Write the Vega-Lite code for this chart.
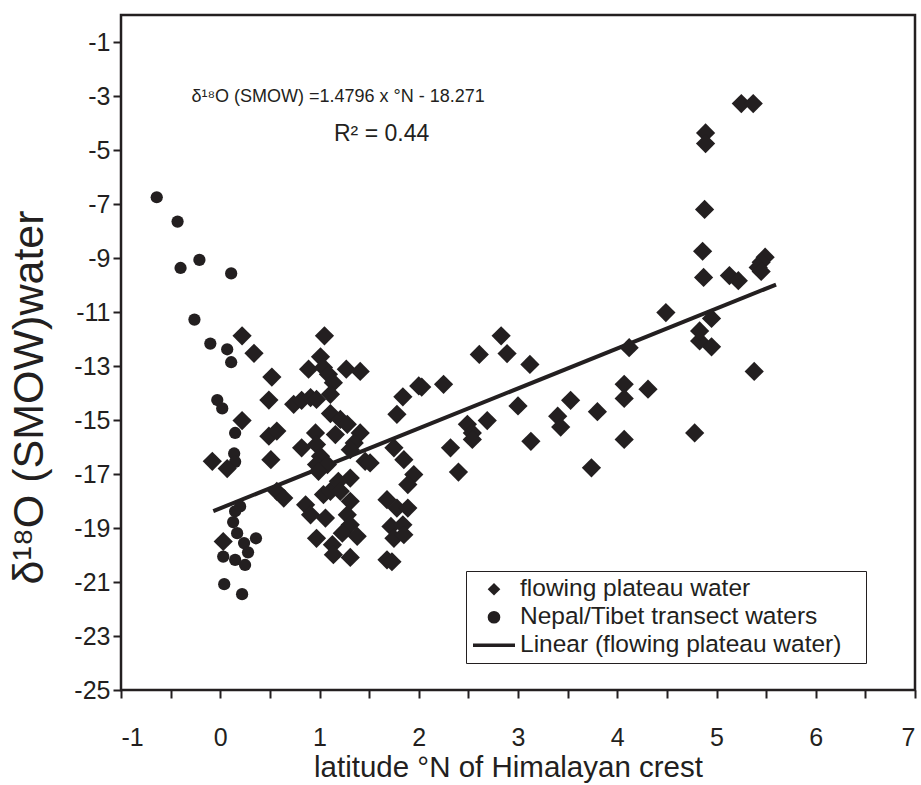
{
  "$schema": "https://vega.github.io/schema/vega-lite/v6.json",
  "width": 794,
  "height": 675,
  "autosize": {"type": "none"},
  "padding": {"left": 121, "top": 15, "right": 6, "bottom": 95},
  "background": "white",
  "config": {
    "view": {"stroke": "#231f20", "strokeWidth": 2.5},
    "font": "Liberation Sans",
    "axis": {
      "labelFont": "Liberation Sans",
      "labelFontSize": 25,
      "labelColor": "#231f20",
      "tickColor": "#231f20",
      "tickWidth": 2,
      "tickSize": 8,
      "domain": false,
      "grid": false,
      "titleFont": "Liberation Sans",
      "titleFontWeight": "normal",
      "titleColor": "#231f20"
    },
    "legend": {
      "orient": "none",
      "legendX": 345,
      "legendY": 556,
      "padding": 6,
      "rowPadding": 3,
      "strokeColor": "#231f20",
      "fillColor": "white",
      "labelFont": "Liberation Sans",
      "labelFontSize": 24.5,
      "labelColor": "#231f20",
      "labelLimit": 600,
      "symbolOffset": 9.75,
      "labelOffset": 13.75,
      "symbolSize": 160,
      "symbolFillColor": "#231f20",
      "symbolOpacity": 1,
      "titleOrient": "right",
      "titleFontSize": 2,
      "titlePadding": 19
    }
  },
  "datasets": {
    "pts": [
      {"lat": -0.64, "d18O": -6.75, "series": "Nepal/Tibet transect waters"},
      {"lat": -0.43, "d18O": -7.65, "series": "Nepal/Tibet transect waters"},
      {"lat": -0.40, "d18O": -9.37, "series": "Nepal/Tibet transect waters"},
      {"lat": -0.21, "d18O": -9.07, "series": "Nepal/Tibet transect waters"},
      {"lat": 0.11, "d18O": -9.57, "series": "Nepal/Tibet transect waters"},
      {"lat": -0.26, "d18O": -11.28, "series": "Nepal/Tibet transect waters"},
      {"lat": -0.10, "d18O": -12.17, "series": "Nepal/Tibet transect waters"},
      {"lat": 0.07, "d18O": -12.38, "series": "Nepal/Tibet transect waters"},
      {"lat": 0.11, "d18O": -12.86, "series": "Nepal/Tibet transect waters"},
      {"lat": -0.03, "d18O": -14.26, "series": "Nepal/Tibet transect waters"},
      {"lat": 0.02, "d18O": -14.57, "series": "Nepal/Tibet transect waters"},
      {"lat": 0.15, "d18O": -15.48, "series": "Nepal/Tibet transect waters"},
      {"lat": 0.14, "d18O": -16.24, "series": "Nepal/Tibet transect waters"},
      {"lat": 0.15, "d18O": -16.55, "series": "Nepal/Tibet transect waters"},
      {"lat": 0.20, "d18O": -18.2, "series": "Nepal/Tibet transect waters"},
      {"lat": 0.15, "d18O": -18.38, "series": "Nepal/Tibet transect waters"},
      {"lat": 0.13, "d18O": -18.78, "series": "Nepal/Tibet transect waters"},
      {"lat": 0.17, "d18O": -19.19, "series": "Nepal/Tibet transect waters"},
      {"lat": 0.24, "d18O": -19.56, "series": "Nepal/Tibet transect waters"},
      {"lat": 0.36, "d18O": -19.38, "series": "Nepal/Tibet transect waters"},
      {"lat": 0.28, "d18O": -19.9, "series": "Nepal/Tibet transect waters"},
      {"lat": 0.03, "d18O": -20.06, "series": "Nepal/Tibet transect waters"},
      {"lat": 0.15, "d18O": -20.18, "series": "Nepal/Tibet transect waters"},
      {"lat": 0.25, "d18O": -20.37, "series": "Nepal/Tibet transect waters"},
      {"lat": 0.04, "d18O": -21.08, "series": "Nepal/Tibet transect waters"},
      {"lat": 0.22, "d18O": -21.45, "series": "Nepal/Tibet transect waters"},
      {"lat": 0.07, "d18O": -16.8, "series": "flowing plateau water"},
      {"lat": 0.03, "d18O": -19.5, "series": "flowing plateau water"},
      {"lat": -0.08, "d18O": -16.53, "series": "flowing plateau water"},
      {"lat": 0.22, "d18O": -11.88, "series": "flowing plateau water"},
      {"lat": 0.34, "d18O": -12.53, "series": "flowing plateau water"},
      {"lat": 1.05, "d18O": -11.88, "series": "flowing plateau water"},
      {"lat": 1.01, "d18O": -12.66, "series": "flowing plateau water"},
      {"lat": 0.52, "d18O": -13.41, "series": "flowing plateau water"},
      {"lat": 0.89, "d18O": -13.12, "series": "flowing plateau water"},
      {"lat": 1.04, "d18O": -13.06, "series": "flowing plateau water"},
      {"lat": 1.09, "d18O": -13.31, "series": "flowing plateau water"},
      {"lat": 1.14, "d18O": -13.62, "series": "flowing plateau water"},
      {"lat": 1.11, "d18O": -14.05, "series": "flowing plateau water"},
      {"lat": 1.27, "d18O": -13.12, "series": "flowing plateau water"},
      {"lat": 1.41, "d18O": -13.2, "series": "flowing plateau water"},
      {"lat": 0.49, "d18O": -14.26, "series": "flowing plateau water"},
      {"lat": 0.74, "d18O": -14.42, "series": "flowing plateau water"},
      {"lat": 0.82, "d18O": -14.27, "series": "flowing plateau water"},
      {"lat": 0.91, "d18O": -14.17, "series": "flowing plateau water"},
      {"lat": 0.97, "d18O": -14.24, "series": "flowing plateau water"},
      {"lat": 0.22, "d18O": -15.02, "series": "flowing plateau water"},
      {"lat": 1.11, "d18O": -14.76, "series": "flowing plateau water"},
      {"lat": 1.21, "d18O": -14.98, "series": "flowing plateau water"},
      {"lat": 1.28, "d18O": -15.16, "series": "flowing plateau water"},
      {"lat": 0.49, "d18O": -15.6, "series": "flowing plateau water"},
      {"lat": 0.57, "d18O": -15.41, "series": "flowing plateau water"},
      {"lat": 1.16, "d18O": -15.54, "series": "flowing plateau water"},
      {"lat": 1.41, "d18O": -15.48, "series": "flowing plateau water"},
      {"lat": 1.35, "d18O": -15.85, "series": "flowing plateau water"},
      {"lat": 1.31, "d18O": -16.1, "series": "flowing plateau water"},
      {"lat": 0.96, "d18O": -15.48, "series": "flowing plateau water"},
      {"lat": 0.82, "d18O": -16.03, "series": "flowing plateau water"},
      {"lat": 0.97, "d18O": -15.91, "series": "flowing plateau water"},
      {"lat": 1.01, "d18O": -16.34, "series": "flowing plateau water"},
      {"lat": 0.97, "d18O": -16.65, "series": "flowing plateau water"},
      {"lat": 1.08, "d18O": -16.65, "series": "flowing plateau water"},
      {"lat": 0.99, "d18O": -16.9, "series": "flowing plateau water"},
      {"lat": 0.51, "d18O": -16.47, "series": "flowing plateau water"},
      {"lat": 1.46, "d18O": -16.53, "series": "flowing plateau water"},
      {"lat": 1.51, "d18O": -16.59, "series": "flowing plateau water"},
      {"lat": 1.31, "d18O": -17.15, "series": "flowing plateau water"},
      {"lat": 1.75, "d18O": -16.03, "series": "flowing plateau water"},
      {"lat": 1.85, "d18O": -16.47, "series": "flowing plateau water"},
      {"lat": 1.95, "d18O": -17.02, "series": "flowing plateau water"},
      {"lat": 1.89, "d18O": -17.39, "series": "flowing plateau water"},
      {"lat": 1.84, "d18O": -14.14, "series": "flowing plateau water"},
      {"lat": 1.78, "d18O": -14.79, "series": "flowing plateau water"},
      {"lat": 2.00, "d18O": -13.74, "series": "flowing plateau water"},
      {"lat": 0.57, "d18O": -17.64, "series": "flowing plateau water"},
      {"lat": 0.64, "d18O": -17.89, "series": "flowing plateau water"},
      {"lat": 0.86, "d18O": -18.14, "series": "flowing plateau water"},
      {"lat": 0.91, "d18O": -18.51, "series": "flowing plateau water"},
      {"lat": 1.06, "d18O": -18.63, "series": "flowing plateau water"},
      {"lat": 1.04, "d18O": -17.76, "series": "flowing plateau water"},
      {"lat": 1.11, "d18O": -17.64, "series": "flowing plateau water"},
      {"lat": 1.19, "d18O": -17.27, "series": "flowing plateau water"},
      {"lat": 1.21, "d18O": -17.64, "series": "flowing plateau water"},
      {"lat": 1.31, "d18O": -18.01, "series": "flowing plateau water"},
      {"lat": 1.28, "d18O": -18.51, "series": "flowing plateau water"},
      {"lat": 1.31, "d18O": -18.88, "series": "flowing plateau water"},
      {"lat": 1.23, "d18O": -19.19, "series": "flowing plateau water"},
      {"lat": 1.38, "d18O": -19.31, "series": "flowing plateau water"},
      {"lat": 0.97, "d18O": -19.38, "series": "flowing plateau water"},
      {"lat": 1.13, "d18O": -19.62, "series": "flowing plateau water"},
      {"lat": 1.14, "d18O": -19.99, "series": "flowing plateau water"},
      {"lat": 1.31, "d18O": -20.09, "series": "flowing plateau water"},
      {"lat": 1.68, "d18O": -17.95, "series": "flowing plateau water"},
      {"lat": 1.78, "d18O": -18.26, "series": "flowing plateau water"},
      {"lat": 1.89, "d18O": -18.26, "series": "flowing plateau water"},
      {"lat": 1.72, "d18O": -18.94, "series": "flowing plateau water"},
      {"lat": 1.84, "d18O": -18.88, "series": "flowing plateau water"},
      {"lat": 1.75, "d18O": -19.38, "series": "flowing plateau water"},
      {"lat": 1.85, "d18O": -19.25, "series": "flowing plateau water"},
      {"lat": 1.68, "d18O": -20.18, "series": "flowing plateau water"},
      {"lat": 1.73, "d18O": -20.25, "series": "flowing plateau water"},
      {"lat": 4.49, "d18O": -11.02, "series": "flowing plateau water"},
      {"lat": 2.83, "d18O": -11.88, "series": "flowing plateau water"},
      {"lat": 2.61, "d18O": -12.57, "series": "flowing plateau water"},
      {"lat": 2.89, "d18O": -12.54, "series": "flowing plateau water"},
      {"lat": 3.12, "d18O": -12.94, "series": "flowing plateau water"},
      {"lat": 2.03, "d18O": -13.78, "series": "flowing plateau water"},
      {"lat": 2.25, "d18O": -13.68, "series": "flowing plateau water"},
      {"lat": 4.12, "d18O": -12.32, "series": "flowing plateau water"},
      {"lat": 3.00, "d18O": -14.48, "series": "flowing plateau water"},
      {"lat": 3.53, "d18O": -14.27, "series": "flowing plateau water"},
      {"lat": 3.80, "d18O": -14.69, "series": "flowing plateau water"},
      {"lat": 4.07, "d18O": -13.68, "series": "flowing plateau water"},
      {"lat": 4.07, "d18O": -14.2, "series": "flowing plateau water"},
      {"lat": 4.31, "d18O": -13.86, "series": "flowing plateau water"},
      {"lat": 4.78, "d18O": -15.48, "series": "flowing plateau water"},
      {"lat": 4.83, "d18O": -12.07, "series": "flowing plateau water"},
      {"lat": 4.83, "d18O": -11.7, "series": "flowing plateau water"},
      {"lat": 2.49, "d18O": -15.16, "series": "flowing plateau water"},
      {"lat": 2.54, "d18O": -15.48, "series": "flowing plateau water"},
      {"lat": 2.54, "d18O": -15.72, "series": "flowing plateau water"},
      {"lat": 2.69, "d18O": -15.02, "series": "flowing plateau water"},
      {"lat": 2.32, "d18O": -16.03, "series": "flowing plateau water"},
      {"lat": 3.40, "d18O": -14.86, "series": "flowing plateau water"},
      {"lat": 3.43, "d18O": -15.26, "series": "flowing plateau water"},
      {"lat": 3.13, "d18O": -15.79, "series": "flowing plateau water"},
      {"lat": 4.07, "d18O": -15.72, "series": "flowing plateau water"},
      {"lat": 2.40, "d18O": -16.93, "series": "flowing plateau water"},
      {"lat": 3.74, "d18O": -16.77, "series": "flowing plateau water"},
      {"lat": 5.25, "d18O": -3.28, "series": "flowing plateau water"},
      {"lat": 5.37, "d18O": -3.28, "series": "flowing plateau water"},
      {"lat": 4.89, "d18O": -4.37, "series": "flowing plateau water"},
      {"lat": 4.89, "d18O": -4.76, "series": "flowing plateau water"},
      {"lat": 4.88, "d18O": -7.2, "series": "flowing plateau water"},
      {"lat": 4.86, "d18O": -8.75, "series": "flowing plateau water"},
      {"lat": 4.87, "d18O": -9.72, "series": "flowing plateau water"},
      {"lat": 5.13, "d18O": -9.65, "series": "flowing plateau water"},
      {"lat": 5.22, "d18O": -9.84, "series": "flowing plateau water"},
      {"lat": 5.49, "d18O": -8.97, "series": "flowing plateau water"},
      {"lat": 5.45, "d18O": -9.16, "series": "flowing plateau water"},
      {"lat": 5.42, "d18O": -9.35, "series": "flowing plateau water"},
      {"lat": 5.45, "d18O": -9.5, "series": "flowing plateau water"},
      {"lat": 4.95, "d18O": -11.24, "series": "flowing plateau water"},
      {"lat": 4.95, "d18O": -12.29, "series": "flowing plateau water"},
      {"lat": 5.38, "d18O": -13.2, "series": "flowing plateau water"}
    ],
    "fit": [
      {"lat": -0.07, "d18O": -18.375},
      {"lat": 5.6, "d18O": -9.985}
    ],
    "notes": [
      {"lat": -0.29, "d18O": -3.04, "text": "δ¹⁸O (SMOW) =1.4796 x °N - 18.271"},
      {"lat": 1.146, "d18O": -4.39, "text": "R² = 0.44"}
    ]
  },
  "encoding": {
    "x": {
      "field": "lat", "type": "quantitative",
      "scale": {"domain": [-1, 7], "nice": false, "zero": false},
      "axis": {
        "title": "latitude °N of Himalayan crest",
        "titleFontSize": 29.5,
        "titleX": 387,
        "values": [-1, -0.5, 0, 0.5, 1, 1.5, 2, 2.5, 3, 3.5, 4, 4.5, 5, 5.5, 6, 6.5, 7],
        "labelExpr": "datum.value % 1 === 0 ? '' + datum.value : ''",
        "labelOverlap": false,
        "labelPadding": 27,
        "titlePadding": 3
      }
    },
    "y": {
      "field": "d18O", "type": "quantitative",
      "scale": {"domain": [-25, 0], "nice": false, "zero": false},
      "axis": {
        "title": "δ¹⁸O (SMOW)water",
        "titleFontSize": 43,
        "titleX": -70,
        "titleY": 382,
        "titleAngle": 270,
        "titleAlign": "center",
        "titleBaseline": "bottom",
        "values": [-25, -23, -21, -19, -17, -15, -13, -11, -9, -7, -5, -3, -1],
        "labelExpr": "'' + datum.value",
        "labelOverlap": false,
        "labelPadding": 3
      }
    }
  },
  "layer": [
    {
      "data": {"name": "fit"},
      "mark": {"type": "line", "color": "#231f20", "strokeWidth": 4}
    },
    {
      "data": {"name": "pts"},
      "mark": {"type": "point", "filled": true, "opacity": 1, "color": "#231f20"},
      "encoding": {
        "size": {
          "field": "series", "type": "nominal",
          "scale": {"domain": ["flowing plateau water", "Nepal/Tibet transect waters"], "range": [370, 150]},
          "legend": null
        },
        "shape": {
          "field": "series", "type": "nominal",
          "scale": {
            "domain": ["flowing plateau water", "Nepal/Tibet transect waters", "Linear (flowing plateau water)"],
            "range": ["diamond", "circle", "M-3.32,0L3.32,0"]
          },
          "legend": {"title": "\u00a0"}
        },
        "stroke": {
          "field": "series", "type": "nominal",
          "scale": {
            "domain": ["flowing plateau water", "Nepal/Tibet transect waters", "Linear (flowing plateau water)"],
            "range": ["#231f20", "#231f20", "#231f20"]
          },
          "legend": {"title": "\u00a0"}
        },
        "strokeWidth": {
          "field": "series", "type": "nominal",
          "scale": {
            "type": "ordinal",
            "domain": ["flowing plateau water", "Nepal/Tibet transect waters", "Linear (flowing plateau water)"],
            "range": [0, 0, 3.5]
          },
          "legend": {"title": "\u00a0"}
        }
      }
    },
    {
      "data": {"name": "notes"},
      "mark": {"type": "text", "align": "left", "baseline": "middle", "font": "Liberation Sans", "color": "#231f20"},
      "encoding": {
        "text": {"field": "text"},
        "size": {"condition": {"test": "datum.text === 'R² = 0.44'", "value": 23}, "value": 18}
      }
    }
  ]
}
